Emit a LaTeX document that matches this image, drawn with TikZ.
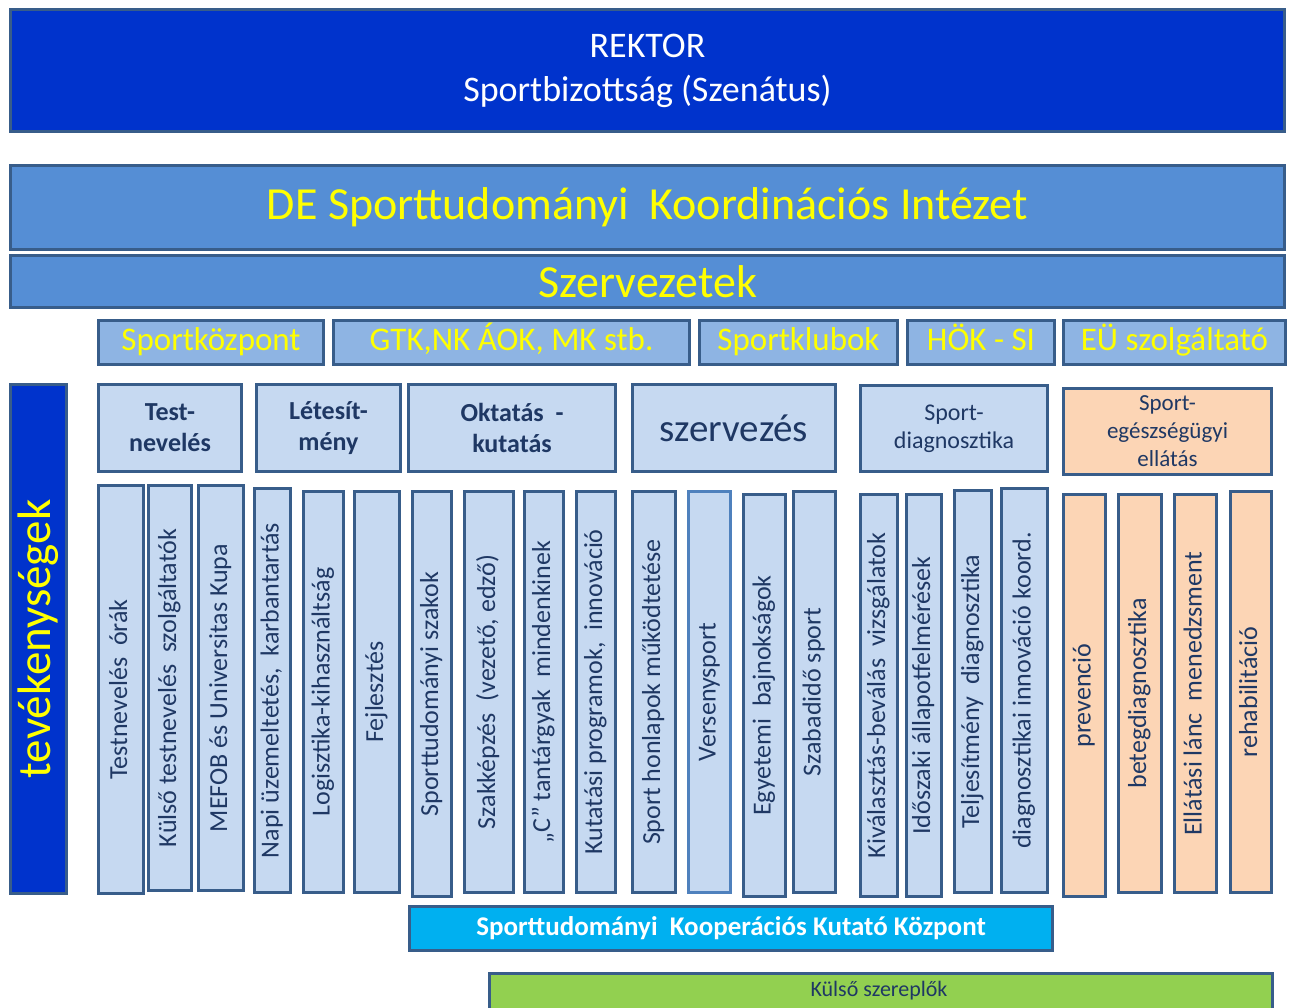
\documentclass[tikz,border=0pt]{standalone}
\usepackage{fontspec}
\setmainfont{Carlito}
\definecolor{bd}{HTML}{385D8A}
\definecolor{bdlight}{HTML}{4F81BD}
\definecolor{royal}{HTML}{0033CC}
\definecolor{midblue}{HTML}{558ED5}
\definecolor{orgblue}{HTML}{8EB4E3}
\definecolor{cellblue}{HTML}{C6D9F1}
\definecolor{peach}{HTML}{FCD5B5}
\definecolor{cyanbox}{HTML}{00B0F0}
\definecolor{greenbox}{HTML}{92D050}
\definecolor{navy}{HTML}{1F3864}
\definecolor{yel}{HTML}{FFFF00}
\begin{document}
\begin{tikzpicture}[x=1pt,y=-1pt,
  bx/.style={draw=bd, line width=3pt, inner sep=0pt, align=center},
  bigbar/.style={bx, fill=midblue, text=yel, minimum width=1274pt, font=\fontsize{46}{50}\selectfont},
  orgbox/.style={bx, fill=orgblue, text=yel, minimum height=44pt, text height=23pt, text depth=7pt, font=\fontsize{33}{36}\selectfont},
  headbox/.style={bx, fill=cellblue, text=navy, minimum height=87pt},
  headbold/.style={headbox, font=\bfseries\fontsize{26}{31}\selectfont},
  colbox/.style={bx, fill=cellblue, text=navy, rotate=90, text height=18pt, text depth=6pt, font=\fontsize{26}{28}\selectfont},
  peachcol/.style={colbox, fill=peach}
]
\useasboundingbox (0,0) rectangle (1291,1008);

% top
\node[bx, fill=royal, text=white, minimum width=1274pt, minimum height=122pt,
      font=\fontsize{36}{43}\selectfont] (rektor) at (647.5,70.5) {REKTOR\\[1pt]Sportbizottság (Szenátus)};
\node[bigbar, minimum height=84pt] (intezet) at (647.5,207.5) {DE Sporttudományi\ \ Koordinációs Intézet};
\node[bigbar, minimum height=52pt] (szerv) at (647.5,281.5) {Szervezetek};

% organisations
\node[orgbox, minimum width=225pt] (sportkozpont) at (211,342.5) {Sportközpont};
\node[orgbox, minimum width=356pt] (gtk) at (511.5,342.5) {GTK,NK ÁOK, MK stb.};
\node[orgbox, minimum width=198pt] (klubok) at (798.5,342.5) {Sportklubok};
\node[orgbox, minimum width=147pt] (hok) at (981,342.5) {HÖK - SI};
\node[orgbox, minimum width=222pt] (eu) at (1174.5,342.5) {EÜ szolgáltató};

% left label
\node[bx, fill=royal, text=yel, rotate=90, minimum width=509pt, minimum height=56pt,
      font=\fontsize{47}{50}\selectfont] (tev) at (38.5,639) {tevékenységek};

% headers
\node[headbold, minimum width=143pt] (h1) at (170,428) {Test-\\nevelés};
\node[headbold, minimum width=144pt] (h2) at (328.5,428) {Létesít-\\mény};
\node[headbold, minimum width=207pt] (h3) at (512,428) {Oktatás\ \ -\\kutatás};
\node[headbox, minimum width=203pt, font=\fontsize{39}{42}\selectfont] (h4) at (734,428) {szervezés};
\node[headbox, minimum width=187pt, minimum height=86pt, font=\fontsize{24}{28}\selectfont] (h5) at (954,428.5) {Sport-\\diagnosztika};
\node[headbox, fill=peach, minimum width=208pt, minimum height=86pt, font=\fontsize{23}{28}\selectfont] (h6) at (1167.5,431.5) {Sport-\\egészségügyi\\ellátás};

% columns
\node[colbox, minimum width=408pt, minimum height=45pt] (c1) at (121,689.5) {Testnevelés\ \ órák};
\node[colbox, minimum width=405pt, minimum height=43pt] (c2) at (170,688) {Külső testnevelés\ \ szolgáltatók};
\node[colbox, minimum width=405pt, minimum height=45pt] (c3) at (221,688) {MEFOB és Universitas Kupa};
\node[colbox, minimum width=404pt, minimum height=36pt] (c4) at (272.5,690.5) {Napi üzemeltetés,\ \ karbantartás};
\node[colbox, minimum width=401pt, minimum height=40pt] (c5) at (323.5,692) {Logisztika-kihasználtság};
\node[colbox, minimum width=401pt, minimum height=45pt] (c6) at (377,692) {Fejlesztés};
\node[colbox, minimum width=405pt, minimum height=39pt] (c7) at (432,694) {Sporttudományi szakok};
\node[colbox, minimum width=401pt, minimum height=49pt] (c8) at (489,692) {Szakképzés\ \ (vezető, edző)};
\node[colbox, minimum width=401pt, minimum height=39pt] (c9) at (544,692) {„C” tantárgyak\ \ mindenkinek};
\node[colbox, minimum width=401pt, minimum height=39pt] (c10) at (596,692) {Kutatási programok,\ \ innováció};
\node[colbox, minimum width=401pt, minimum height=43pt] (c11) at (654,692) {Sport honlapok működtetése};
\node[colbox, draw=bdlight, minimum width=401pt, minimum height=42pt] (c12) at (709.5,692) {Versenysport};
\node[colbox, minimum width=402pt, minimum height=42pt] (c13) at (764.5,695.5) {Egyetemi\ \ bajnokságok};
\node[colbox, minimum width=401pt, minimum height=42pt] (c14) at (814.5,692) {Szabadidő sport};
\node[colbox, minimum width=402pt, minimum height=37pt] (c15) at (879,695.5) {Kiválasztás-beválás\ \ vizsgálatok};
\node[colbox, minimum width=402pt, minimum height=35pt] (c16) at (924,695.5) {Időszaki állapotfelmérések};
\node[colbox, minimum width=402pt, minimum height=37pt] (c17) at (973,691.5) {Teljesítmény\ \ diagnosztika};
\node[colbox, minimum width=404pt, minimum height=46pt] (c18) at (1024.5,690.5) {diagnosztikai innováció koord.};
\node[peachcol, minimum width=402pt, minimum height=42pt] (c19) at (1084.5,695.5) {prevenció};
\node[peachcol, minimum width=398pt, minimum height=43pt] (c20) at (1140,693.5) {betegdiagnosztika};
\node[peachcol, minimum width=398pt, minimum height=42pt] (c21) at (1195.5,693.5) {Ellátási lánc\ \ menedzsment};
\node[peachcol, minimum width=401pt, minimum height=41pt] (c22) at (1251,692) {rehabilitáció};

% bottom
\node[bx, fill=cyanbox, text=white, minimum width=643pt, minimum height=44pt,
      font=\bfseries\fontsize{27}{30}\selectfont] (skkk) at (731,928.5) {Sporttudományi\ \ Kooperációs Kutató Központ};
\node[bx, fill=greenbox, minimum width=783pt, minimum height=42pt] (kulso) at (881,994.5) {};
\node[text=navy, inner sep=0pt, font=\fontsize{22}{24}\selectfont] (kulsotext) at (879,991) {Külső szereplők};
\end{tikzpicture}
\end{document}
